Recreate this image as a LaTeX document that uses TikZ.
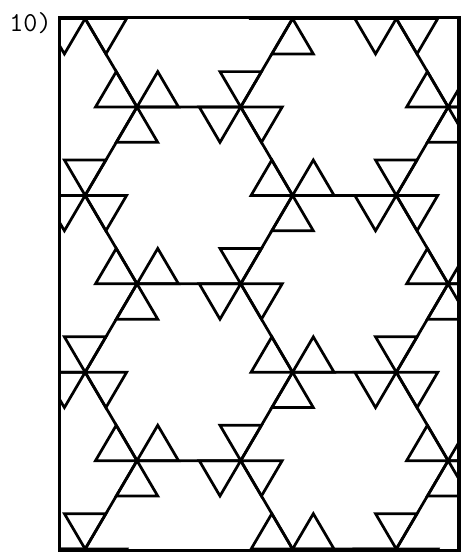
\documentclass[tikz,border=0pt]{standalone}
\usepackage{tikz}
\usetikzlibrary{calc}

\begin{document}
\begin{tikzpicture}[x=2cm,y=1.9687cm,line width=1.5pt]
\useasboundingbox (-1.321,-4.359) rectangle (3.124,1.048);
\node[anchor=base west,inner sep=0pt] (lbl) at (-1.244,0.735) {\ttfamily\fontsize{15}{15}\selectfont 10)};
\begin{scope}
\clip (-0.747,-4.35) rectangle (3.105,0.877);
\foreach \m in {-6,...,2}{
  \foreach \n in {-4,...,4}{
    \pgfmathsetmacro{\ax}{1.5*\m+3*\n}
    \pgfmathsetmacro{\ay}{0.866*\m}
    % three edges of the star
    \draw (\ax,\ay) -- +(1,0) (\ax,\ay) -- +(120:1) (\ax,\ay) -- +(240:1);
    % small triangles at both kinds of star
    \foreach \t in {0,120,240}{
      \draw (\ax,\ay) -- +(\t:0.4) -- +(\t+60:0.4) -- cycle;
      \draw (\ax+1,\ay) -- +(\t+60:0.4) -- +(\t+120:0.4) -- cycle;
    }
  }
}
\end{scope}
\draw[line width=2pt] (-0.747,-4.35) rectangle (3.105,0.877);
\end{tikzpicture}
\end{document}
